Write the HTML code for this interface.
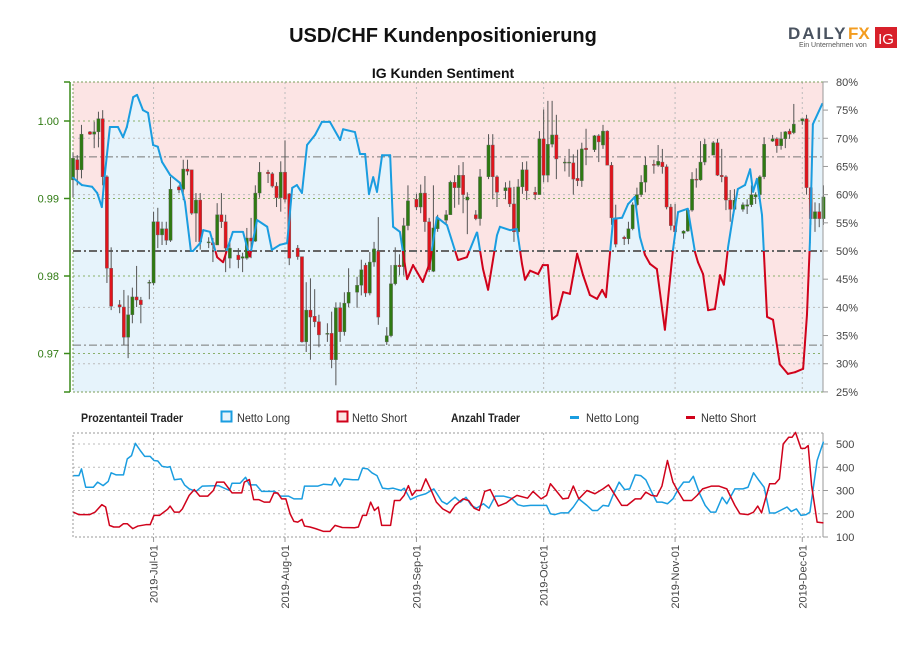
<!DOCTYPE html>
<html><head><meta charset="utf-8"><style>
html,body{margin:0;padding:0;background:#fff;}
svg{display:block;font-family:"Liberation Sans",sans-serif;}
</style></head><body>
<svg id="chart" width="900" height="650" viewBox="0 0 900 650" xmlns="http://www.w3.org/2000/svg">
<text x="443" y="42" text-anchor="middle" font-size="20" font-weight="bold" fill="#111">USD/CHF Kundenpositionierung</text>
<g>
<text x="788" y="39" font-size="17" font-weight="bold" fill="#4a5360" letter-spacing="2">DAILY</text>
<text x="848" y="39" font-size="17" font-weight="bold" fill="#f39c1f">FX</text>
<text x="799" y="47" font-size="7" fill="#555">Ein Unternehmen von</text>
<rect x="875" y="27" width="22" height="21" fill="#d8202a"/>
<text x="886" y="44" text-anchor="middle" font-size="15" fill="#fff">IG</text>
</g>
<text x="443" y="78" text-anchor="middle" font-size="14" font-weight="bold" fill="#111">IG Kunden Sentiment</text>
<g id="main"></g>
<g id="legend" font-size="12">
<text x="81" y="422" font-weight="bold" fill="#222" textLength="102" lengthAdjust="spacingAndGlyphs">Prozentanteil Trader</text>
<rect x="221.5" y="411.5" width="10" height="10" fill="#e6f3fb" stroke="#1a9de0" stroke-width="2"/>
<text x="237" y="422" fill="#333" textLength="53" lengthAdjust="spacingAndGlyphs">Netto Long</text>
<rect x="337.5" y="411.5" width="10" height="10" fill="#fce4e4" stroke="#d0021b" stroke-width="2"/>
<text x="352" y="422" fill="#333" textLength="55" lengthAdjust="spacingAndGlyphs">Netto Short</text>
<text x="451" y="422" font-weight="bold" fill="#222" textLength="69" lengthAdjust="spacingAndGlyphs">Anzahl Trader</text>
<rect x="570" y="416" width="9" height="3" fill="#1a9de0"/>
<text x="586" y="422" fill="#333" textLength="53" lengthAdjust="spacingAndGlyphs">Netto Long</text>
<rect x="686" y="416" width="9" height="3" fill="#d0021b"/>
<text x="701" y="422" fill="#333" textLength="55" lengthAdjust="spacingAndGlyphs">Netto Short</text>
</g>
<g id="lower"></g>
</svg>
<script>
// ---- data ----
const monthLabels = ["2019-Jul-01","2019-Aug-01","2019-Sep-01","2019-Oct-01","2019-Nov-01","2019-Dec-01"];
const monthDays = [19,50,81,111,142,172]; // days since 2019-06-12
const priceTicks = [1.00,0.99,0.98,0.97];
const pctTicks = [80,75,70,65,60,55,50,45,40,35,30,25];
const countTicks = [100,200,300,400,500];

const candleDays = [0,1,2,4,5,6,7,8,9,11,12,13,14,15,16,18,19,20,21,22,23,25,26,27,28,29,30,32,33,34,35,36,37,39,40,41,42,43,44,46,47,48,49,50,51,53,54,55,56,57,58,60,61,62,63,64,65,67,68,69,70,71,72,74,75,76,77,78,79,81,82,83,84,85,86,88,89,90,91,92,93,95,96,98,99,100,102,103,104,105,106,107,109,110,111,112,113,114,116,117,118,119,120,121,123,124,125,126,127,128,130,131,132,133,134,135,137,138,139,140,141,142,144,145,146,147,148,149,151,152,153,154,155,156,158,159,160,161,162,163,165,166,167,168,169,170,172,173,174,175,176,177];
const opens = [.9924,.9950,.9937,.9986,.9983,.9986,1.0003,.9928,.9810,.9763,.9760,.9721,.9750,.9773,.9769,.9791,.9791,.9870,.9853,.9861,.9846,.9915,.9912,.9938,.9937,.9881,.9898,.9843,.9843,.9840,.9879,.9870,.9823,.9827,.9823,.9823,.9849,.9845,.9907,.9934,.9932,.9916,.9901,.9934,.9906,.9836,.9825,.9715,.9756,.9748,.9741,.9725,.9726,.9692,.9759,.9728,.9765,.9779,.9788,.9814,.9778,.9818,.9832,.9715,.9723,.9790,.9814,.9812,.9865,.9899,.9889,.9907,.9870,.9806,.9861,.9872,.9879,.9921,.9914,.9930,.9898,.9879,.9874,.9928,.9969,.9928,.9910,.9914,.9893,.9857,.9915,.9937,.9908,.9905,.9977,.9930,.9970,.9982,.9946,.9946,.9946,.9926,.9923,.9965,.9963,.9981,.9969,.9987,.9943,.9875,.9850,.9848,.9861,.9892,.9905,.9921,.9944,.9943,.9947,.9941,.9889,.9865,.9855,.9858,.9885,.9925,.9924,.9947,.9956,.9972,.9930,.9928,.9898,.9886,.9886,.9890,.9892,.9902,.9905,.9928,.9974,.9977,.9968,.9977,.9987,.9985,1.0000,1.0003,.9914,.9874,.9883,.9874];
const highs = [.9959,.9956,.9995,.9987,.9999,1.0012,1.0014,.9930,.9837,.9769,.9782,.9775,.9785,.9813,.9773,.9795,.9883,.9888,.9870,.9870,.9928,.9917,.9950,.9950,.9937,.9907,.9907,.9850,.9849,.9894,.9907,.9879,.9849,.9836,.9830,.9862,.9875,.9917,.9947,.9937,.9934,.9921,.9948,.9975,.9907,.9840,.9825,.9792,.9797,.9783,.9750,.9739,.9754,.9766,.9766,.9779,.9810,.9799,.9821,.9817,.9831,.9844,.9876,.9734,.9814,.9837,.9828,.9875,.9917,.9906,.9918,.9929,.9875,.9917,.9879,.9885,.9923,.9930,.9943,.9947,.9908,.9885,.9938,.9983,.9983,.9930,.9921,.9923,.9915,.9925,.9947,.9948,.9915,.9987,1.0015,1.0026,1.0026,1.0008,.9952,.9964,.9957,.9963,.9972,.9990,.9982,.9983,.9995,.9988,.9947,.9892,.9852,.9870,.9895,.9914,.9930,.9954,.9950,.9969,.9964,.9944,.9893,.9893,.9859,.9886,.9934,.9939,.9974,.9977,.9974,.9977,.9964,.9930,.9911,.9912,.9895,.9899,.9917,.9908,.9930,.9979,.9982,.9979,.9986,.9987,.9990,1.0022,1.0003,1.0008,.9915,.9895,.9894,.9917];
const lows = [.9902,.9917,.9926,.9982,.9965,.9966,.9917,.9791,.9756,.9752,.9711,.9694,.9739,.9760,.9739,.9770,.9788,.9836,.9840,.9840,.9844,.9907,.9898,.9930,.9879,.9844,.9834,.9836,.9818,.9840,.9862,.9805,.9810,.9810,.9805,.9821,.9823,.9844,.9901,.9920,.9914,.9889,.9883,.9895,.9814,.9821,.9714,.9702,.9692,.9734,.9708,.9715,.9681,.9659,.9715,.9723,.9760,.9759,.9775,.9773,.9775,.9812,.9737,.9711,.9721,.9788,.9801,.9801,.9859,.9885,.9881,.9857,.9805,.9805,.9857,.9866,.9879,.9888,.9892,.9881,.9854,.9872,.9865,.9925,.9899,.9889,.9899,.9889,.9844,.9854,.9906,.9898,.9898,.9905,.9921,.9921,.9966,.9925,.9935,.9928,.9905,.9916,.9915,.9943,.9960,.9947,.9964,.9943,.9866,.9837,.9840,.9841,.9859,.9890,.9902,.9908,.9932,.9941,.9932,.9886,.9859,.9854,.9848,.9857,.9883,.9914,.9923,.9943,.9956,.9929,.9921,.9885,.9870,.9885,.9883,.9880,.9889,.9893,.9902,.9925,.9973,.9959,.9963,.9965,.9977,.9983,.9995,.9905,.9866,.9857,.9863,.9866];
const closes = [.9952,.9937,.9983,.9983,.9986,1.0003,.9928,.9810,.9761,.9760,.9721,.9750,.9773,.9769,.9763,.9792,.9870,.9853,.9861,.9846,.9912,.9911,.9938,.9935,.9881,.9898,.9844,.9844,.9840,.9879,.9870,.9836,.9836,.9821,.9825,.9849,.9845,.9907,.9934,.9932,.9916,.9901,.9934,.9899,.9823,.9825,.9715,.9756,.9747,.9741,.9724,.9726,.9692,.9759,.9728,.9765,.9779,.9788,.9808,.9778,.9818,.9835,.9747,.9723,.9790,.9814,.9812,.9865,.9897,.9889,.9907,.9870,.9808,.9862,.9874,.9879,.9921,.9914,.9930,.9905,.9902,.9874,.9928,.9969,.9928,.9908,.9914,.9893,.9857,.9915,.9937,.9910,.9905,.9977,.9930,.9970,.9982,.9951,.9947,.9947,.9925,.9923,.9964,.9963,.9981,.9973,.9987,.9943,.9875,.9841,.9848,.9861,.9892,.9905,.9921,.9943,.9943,.9948,.9941,.9889,.9865,.9857,.9858,.9885,.9925,.9924,.9947,.9970,.9972,.9930,.9928,.9898,.9886,.9898,.9892,.9892,.9905,.9905,.9928,.9970,.9977,.9968,.9977,.9986,.9983,.9996,1.0003,.9914,.9874,.9883,.9874,.9902];

const sentDays = [0,2.1,4.5,5.7,6.8,7.5,8.7,10.6,11.8,12.7,14.2,15.1,16.5,17.7,18.9,20,21,22.9,25.2,26.4,27.8,28.3,30,30.7,32.3,34,35.4,37.7,40.1,41.7,43.4,45.8,46.9,48.8,50.5,51.7,52.8,54,55.2,57.1,58.7,60.6,63,63.7,66.5,67.7,68.9,69.8,70.8,71.7,72.9,74.8,75.5,77.1,78.8,80.2,82.5,84.2,85.8,88.2,90.8,92.9,95.3,96.7,97.9,100,100.7,103.1,104.7,105.9,106.6,107.8,109.7,110.8,112,113,114.2,115.6,117.2,118.9,120.3,121.9,123.6,124.8,125.7,127.4,129.5,130.9,132.5,133.7,134.9,136.1,137.7,139.6,141.5,142.7,145,146.7,147.4,148.6,149.8,151.4,152.6,153.5,154.5,155.7,156.8,158.5,159.7,160.4,161.3,162.5,163.7,165.1,166.7,168.6,170.3,172.2,173.1,173.8,174.5,176.7];
const sentLong = [63,61.7,61.4,60.3,57.8,63.5,72,72,70.2,72,77.3,77.7,75,74.5,68.8,68.5,65.8,63.5,62.1,58.7,50,50,51.4,53.7,53.4,48.9,48,53.4,53.4,48.9,55.5,54.3,50.2,51.1,51.4,61.2,61.7,60.3,68.8,70.6,72.9,72.9,69.7,71.6,71.1,67.2,67.2,60.1,63.1,60.5,67,67,54.3,53.4,45,47.5,44.5,48,56,54.6,48.4,48.9,53.4,46.8,43.1,52.8,54.3,53.7,53.9,47.7,44.9,46.5,45.9,47.5,47.5,37.9,38.6,42.7,42.4,49.5,45.7,42.2,41.5,43.1,41.8,55.7,55.9,58.3,59.6,52.5,49.3,47.7,46.8,36,50.2,56.9,57.5,49.8,48,45.9,39.5,39.7,45.7,44,50.7,56.4,61,61.7,64.5,60.5,62.8,56.4,38.3,37.8,29.9,28.2,28.5,29.1,38.6,51.6,72.5,76.1];

const longDays = [0.1,1.4,2,3,4.8,5.8,7.1,8.3,9,10.2,11.9,12.8,13.8,14.7,15.9,16.9,18.2,19.1,20,21,22.3,22.9,23.9,25.5,26.3,27.4,29,30.5,34.3,36.9,37.5,39.4,40.7,41.6,43.2,44.5,47.6,48.9,50.8,52.1,54,54.6,57.8,59.1,61,61.8,62.9,63.9,66,67.3,68.3,69.5,70.5,71.7,73,74.3,75.5,77.4,78.1,79.6,81.3,83.2,85.1,87,88.2,89.2,90.1,91.4,92.7,93.9,95.2,96.8,98.1,99.6,101.5,103.4,104.9,106.2,107.9,111.7,112.6,113.6,115.1,116.8,118,119.3,121.2,122.5,123.7,125,126.3,127.5,128.8,130.1,131.3,132.6,133.9,135.1,136.4,137.7,138.9,140.2,141.5,142.7,144,145.3,146.3,147.8,149.1,150.4,151.6,153.1,154.2,156.1,158,159.2,160.5,161.8,163,164.3,165.6,166.8,168.4,169.4,170.6,171.7,172.9,173.8,175.5,177];
const longCounts = [364,364,393,314,314,336,321,339,376,367,367,436,450,503,471,447,447,429,427,404,400,403,346,350,324,307,296,319,321,300,331,331,357,324,324,296,296,276,276,264,264,319,319,327,324,354,319,350,346,346,396,393,376,364,310,307,310,300,310,261,276,286,307,253,241,257,271,250,271,236,224,243,224,276,276,267,239,233,236,236,200,196,204,204,229,264,236,214,214,236,233,286,336,304,307,367,364,346,296,250,250,243,264,304,336,336,361,286,236,207,207,271,243,307,307,314,376,343,314,203,203,214,229,210,221,193,196,207,429,510];
const shortDays = [0.1,1.4,3.9,5.2,6.8,7.7,8.6,9.6,10.9,11.9,12.8,14.1,15.3,17.2,18.2,19.1,20.4,22.3,22.9,23.9,25.1,25.8,27.4,28.6,29.9,31.8,33.1,33.9,35.6,37.5,39.8,40.4,41.6,42.6,43.8,45.1,46.4,47.4,48.3,49.2,50.2,51.2,52.1,53,54,54.6,55.9,57.2,59.1,60.6,61.8,63.5,66.4,67.3,68.3,69.2,70.2,71.1,72,72.8,74.9,75.8,77.1,78.1,79.1,80,80.9,82.1,83.2,84.4,85.7,87.2,88.9,90.1,92,93.3,94.6,95.8,97.1,98.4,100.3,102.2,103.4,104.7,107.2,108.5,110.4,111.7,112.6,113.6,115.5,116.8,118,119.3,121.2,123.1,125,126.3,127.5,129.4,130.7,132.6,133.9,135.1,136.4,137.7,138.9,140.2,141.5,142.7,144,145.9,147.2,148.5,150.6,152.3,154.2,156.1,157.3,159.2,160.5,161.5,162.4,164.3,165.6,166.6,167.5,168.8,169.6,170.4,171.7,172.6,173.4,174.2,175.5,177];
const shortCounts = [207,196,196,207,239,229,150,143,143,157,157,136,147,153,153,193,193,219,233,207,207,221,279,304,276,276,300,336,336,290,290,336,347,261,261,250,250,290,289,264,264,200,167,164,176,147,143,136,124,124,150,141,140,143,193,193,250,214,229,150,150,257,257,279,321,279,300,300,350,304,250,221,204,236,264,257,224,214,296,304,233,247,264,279,267,296,264,279,329,307,264,267,319,264,300,286,307,324,290,236,236,264,264,293,279,276,319,429,336,296,257,257,279,307,319,319,307,236,200,196,207,233,204,329,329,350,500,529,529,550,481,481,493,321,164,161];

// ---- scales ----
const X0 = 73, X1 = 823, PX = 4.24;
const xDay = d => X0 + d * PX;
const yPrice = p => 121 + (1 - p) * 7750;
const yPct = v => 251 - (v - 50) * 5.636;
const yCount = v => 537 - (v - 100) * 0.2325;
const NS = "http://www.w3.org/2000/svg";
function mk(tag, attrs, parent) {
  const e = document.createElementNS(NS, tag);
  for (const k in attrs) e.setAttribute(k, attrs[k]);
  parent.appendChild(e);
  return e;
}
const main = document.getElementById('main');
const lower = document.getElementById('lower');
const BLUE = "#1a9de0", RED = "#d0021b";

// backgrounds
const bg = mk('rect', {x: X0, y: 82, width: X1 - X0, height: 310, fill: "#fce4e4"}, main);


let poly = `${xDay(sentDays[0])},392 `;
for (let i = 0; i < sentDays.length; i++) poly += `${xDay(sentDays[i])},${yPct(sentLong[i])} `;
poly += `${X1},${yPct(sentLong[sentLong.length-1])} ${X1},392`;
const la = mk('polygon', {points: poly, fill: "#e6f3fb"}, main);



// grid
const g1 = mk('g', {}, main);


[70, 60, 40, 30].forEach(v => mk('line', {x1: X0, x2: X1, y1: yPct(v), y2: yPct(v), stroke: "#bbb", "stroke-dasharray": "2,3"}, g1));
priceTicks.forEach(p => mk('line', {x1: X0, x2: X1, y1: yPrice(p), y2: yPrice(p), stroke: "#8ab06a", "stroke-dasharray": "2,3"}, g1));
monthDays.forEach(d => mk('line', {x1: xDay(d), x2: xDay(d), y1: 82, y2: 392, stroke: "#bbb", "stroke-dasharray": "2,3"}, g1));
[66.7, 33.3].forEach(v => mk('line', {x1: X0, x2: X1, y1: yPct(v), y2: yPct(v), stroke: "#777", "stroke-dasharray": "8,3,2,3"}, g1));
mk('line', {x1: X0, x2: X1, y1: yPct(50), y2: yPct(50), stroke: "#666", "stroke-width": 2, "stroke-dasharray": "8,3,2,3"}, g1);
mk('rect', {x: X0, y: 82, width: X1 - X0, height: 310, fill: "none", stroke: "#7a9e5a", "stroke-dasharray": "2,2"}, g1);

// candles
const cg = mk('g', {}, main);


for (let i = 0; i < candleDays.length; i++) {
  const x = xDay(candleDays[i]);
  const up = closes[i] >= opens[i];
  const c = mk('g', {}, cg);
  
  
  mk('line', {x1: x, x2: x, y1: yPrice(highs[i]), y2: yPrice(lows[i]), stroke: "#555", "stroke-width": 1}, c);
  const yt = yPrice(Math.max(opens[i], closes[i])), yb = yPrice(Math.min(opens[i], closes[i]));
  mk('rect', {x: x - 1.6, y: yt, width: 3.2, height: Math.max(1, yb - yt), fill: up ? "#2f7a12" : "#e0141c", stroke: "#666", "stroke-width": 0.4}, c);
}

// sentiment line split by colour
const sg = mk('g', {fill: "none", "stroke-width": 2, "stroke-linejoin": "round"}, main);


for (let i = 0; i < sentDays.length - 1; i++) {
  const a = sentLong[i], b = sentLong[i+1], da = sentDays[i], db = sentDays[i+1];
  if ((a >= 50) === (b >= 50)) {
    mk('line', {x1: xDay(da), y1: yPct(a), x2: xDay(db), y2: yPct(b), stroke: a >= 50 ? BLUE : RED, "stroke-linecap": "round"}, sg);
  } else {
    const t = (50 - a) / (b - a), dm = da + t * (db - da);
    mk('line', {x1: xDay(da), y1: yPct(a), x2: xDay(dm), y2: yPct(50), stroke: a >= 50 ? BLUE : RED}, sg);
    mk('line', {x1: xDay(dm), y1: yPct(50), x2: xDay(db), y2: yPct(b), stroke: b >= 50 ? BLUE : RED}, sg);
  }
}

// axes
const lax = mk('g', {}, main);


mk('line', {x1: 70, x2: 70, y1: 82, y2: 392, stroke: "#3a8a1a", "stroke-width": 1.5}, lax);
mk('line', {x1: 64, x2: 70, y1: 82, y2: 82, stroke: "#3a8a1a", "stroke-width": 1.5}, lax);
mk('line', {x1: 64, x2: 70, y1: 392, y2: 392, stroke: "#3a8a1a", "stroke-width": 1.5}, lax);
priceTicks.forEach(p => {
  mk('line', {x1: 64, x2: 70, y1: yPrice(p), y2: yPrice(p), stroke: "#3a8a1a", "stroke-width": 1.5}, lax);
  const t = mk('text', {x: 59, y: yPrice(p) + 4, "text-anchor": "end", "font-size": 11, fill: "#2f7a12"}, lax);
  t.textContent = p.toFixed(2);
});
const rax = mk('g', {}, main);


mk('line', {x1: X1, x2: X1, y1: 82, y2: 392, stroke: "#999"}, rax);
pctTicks.forEach(v => {
  mk('line', {x1: X1, x2: X1 + 5, y1: yPct(v), y2: yPct(v), stroke: "#999"}, rax);
  const t = mk('text', {x: 836, y: yPct(v) + 4, "font-size": 11, fill: "#444"}, rax);
  t.textContent = v + "%";
});

// lower chart
const lg = mk('g', {}, lower);


[200, 300, 400, 500].forEach(v => mk('line', {x1: X0, x2: X1, y1: yCount(v), y2: yCount(v), stroke: "#bbb", "stroke-dasharray": "2,3"}, lg));
monthDays.forEach(d => mk('line', {x1: xDay(d), x2: xDay(d), y1: 433, y2: 537, stroke: "#bbb", "stroke-dasharray": "2,3"}, lg));
mk('rect', {x: X0, y: 433, width: X1 - X0, height: 104, fill: "none", stroke: "#999", "stroke-dasharray": "2,2"}, lg);
const cax = mk('g', {}, lower);


mk('line', {x1: X1, x2: X1, y1: 433, y2: 537, stroke: "#999"}, cax);
countTicks.forEach(v => {
  mk('line', {x1: X1, x2: X1 + 5, y1: yCount(v), y2: yCount(v), stroke: "#999"}, cax);
  const t = mk('text', {x: 836, y: yCount(v) + 4, "font-size": 11, fill: "#444"}, cax);
  t.textContent = v;
});
function series(days, vals, color, name) {
  const pts = days.map((d, i) => `${xDay(d)},${yCount(vals[i])}`).join(' ');
  const pl = mk('polyline', {points: pts, fill: "none", stroke: color, "stroke-width": 1.5, "stroke-linejoin": "round"}, lower);
  
  
}
series(longDays, longCounts, BLUE, 'count-long-line');
series(shortDays, shortCounts, RED, 'count-short-line');

const xax = mk('g', {}, lower);


monthDays.forEach((d, i) => {
  const x = xDay(d);
  mk('line', {x1: x, x2: x, y1: 537, y2: 542, stroke: "#999"}, xax);
  const t = mk('text', {x: 0, y: 0, transform: `translate(${x + 4},545) rotate(-90)`, "text-anchor": "end", "font-size": 11, fill: "#444"}, xax);
  
  
  t.textContent = monthLabels[i];
});
</script>
</body></html>
